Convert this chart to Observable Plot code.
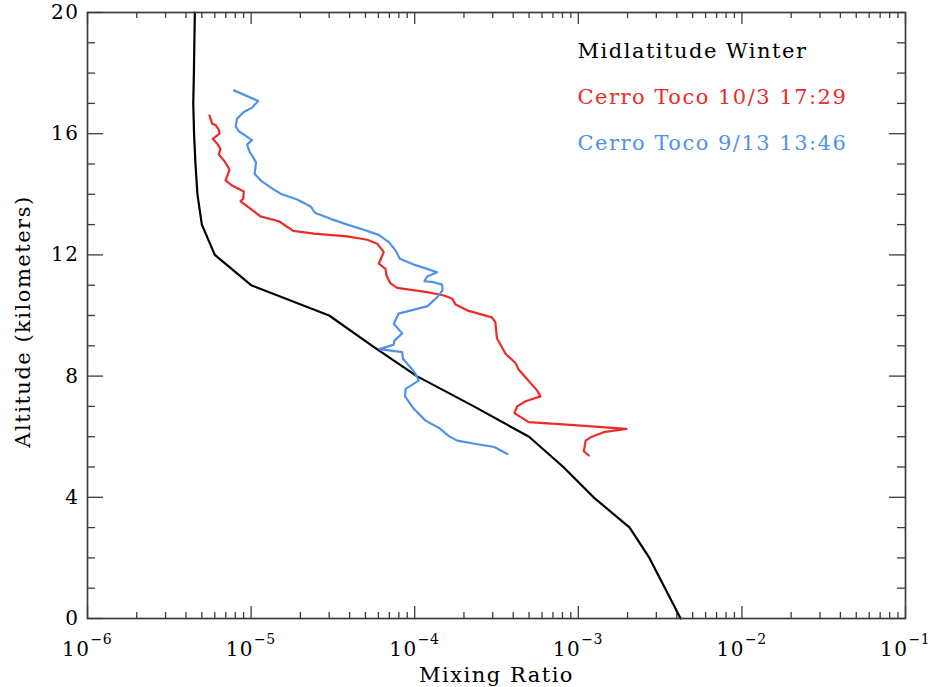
<!DOCTYPE html>
<html><head><meta charset="utf-8">
<script src="https://cdn.jsdelivr.net/npm/d3@7"></script>
<script src="https://cdn.jsdelivr.net/npm/@observablehq/plot@0.6"></script>
<style>
html,body{margin:0;padding:0;background:#fff;overflow:hidden}
svg text{letter-spacing:1.5px}
svg g[font-size="14"] text{letter-spacing:0.5px}
</style>
</head><body><div id="chart"></div>
<script>
// ---- data ----
const seriesNames = ["Midlatitude Winter", "Cerro Toco 10/3 17:29", "Cerro Toco 9/13 13:46"];
const seriesColors = ["#000000", "#ec2b2b", "#5291ea"];

const mlwAltitude = [20,19,18,17,16,15,14,13,12,11,10,9,8,7,6,5,4,3,2,1,0];
const mlwRatio = [4.53e-6,4.5e-6,4.47e-6,4.43e-6,4.48e-6,4.57e-6,4.7e-6,5.0e-6,6.0e-6,1.0e-5,3.0e-5,5.5e-5,1.03e-4,2.3e-4,5.0e-4,8.1e-4,1.24e-3,2.06e-3,2.72e-3,3.39e-3,4.22e-3];

const oct3Altitude = [16.60,16.33,16.29,16.13,16.00,15.83,15.67,15.50,15.31,15.12,14.95,14.81,14.46,14.29,14.09,13.85,13.77,13.57,13.27,13.11,12.79,12.70,12.61,12.50,12.37,12.09,11.71,11.54,11.32,11.06,10.91,10.77,10.66,10.55,10.36,10.17,9.94,9.78,9.26,8.74,8.43,8.21,7.52,7.33,7.17,7.00,6.78,6.48,6.39,6.26,6.15,5.98,5.87,5.52,5.38];
const oct3Ratio = [5.57e-6,5.78e-6,6.06e-6,6.35e-6,6.41e-6,5.83e-6,6.21e-6,6.50e-6,6.35e-6,6.81e-6,7.14e-6,7.38e-6,6.98e-6,7.66e-6,9.03e-6,8.95e-6,8.61e-6,9.68e-6,1.14e-5,1.48e-5,1.81e-5,2.42e-5,3.87e-5,5.13e-5,5.90e-5,6.47e-5,6.03e-5,6.63e-5,6.72e-5,7.11e-5,7.82e-5,1.19e-4,1.51e-4,1.70e-4,1.78e-4,2.09e-4,2.96e-4,3.11e-4,3.18e-4,3.59e-4,4.13e-4,4.33e-4,5.61e-4,5.87e-4,4.76e-4,4.23e-4,4.07e-4,4.98e-4,8.96e-4,1.97e-3,1.43e-3,1.19e-3,1.11e-3,1.08e-3,1.16e-3];

const sep13Altitude = [17.43,17.08,16.86,16.71,16.49,16.24,16.09,15.79,15.64,15.39,15.22,15.05,14.67,14.46,14.23,14.02,13.83,13.60,13.38,13.19,13.00,12.83,12.66,12.42,12.15,11.87,11.68,11.54,11.43,11.29,11.13,11.10,11.02,10.83,10.60,10.31,10.06,9.73,9.41,9.17,9.04,8.89,8.79,8.57,8.27,8.08,7.85,7.58,7.33,6.92,6.53,6.29,6.02,5.87,5.76,5.66,5.43];
const sep13Ratio = [7.86e-6,1.105e-5,1.013e-5,8.98e-6,8.20e-6,8.06e-6,8.38e-6,1.013e-5,9.44e-6,9.82e-6,1.03e-5,1.072e-5,1.052e-5,1.142e-5,1.314e-5,1.512e-5,1.913e-5,2.31e-5,2.47e-5,3.06e-5,3.87e-5,4.89e-5,6.03e-5,6.95e-5,7.63e-5,8.11e-5,9.87e-5,1.19e-4,1.37e-4,1.19e-4,1.148e-4,1.30e-4,1.47e-4,1.48e-4,1.37e-4,1.20e-4,7.96e-5,7.45e-5,8.39e-5,7.52e-5,7.45e-5,6.09e-5,8.39e-5,8.48e-5,9.49e-5,1.011e-4,1.06e-4,8.79e-5,8.73e-5,9.87e-5,1.164e-4,1.41e-4,1.616e-4,1.82e-4,2.37e-4,3.07e-4,3.69e-4];

const yMajorTicks = [0,4,8,12,16,20];
const yMinorTicks = [1,2,3,5,6,7,9,10,11,13,14,15,17,18,19];
const xExponents = [-6,-5,-4,-3,-2,-1];
const xMinorMultipliers = [2,3,4,5,6,7,8,9];
const xLabel = "Mixing Ratio";
const yLabel = "Altitude (kilometers)";

// ---- build tables ----
const toRows = (alts, ratios) => alts.map((a, i) => ({alt: a, ratio: ratios[i]}));
const mlw = toRows(mlwAltitude, mlwRatio);
const oct3 = toRows(oct3Altitude, oct3Ratio);
const sep13 = toRows(sep13Altitude, sep13Ratio);
const xMajor = xExponents.map(e => Math.pow(10, e));
const xMinor = xExponents.slice(0, -1).flatMap(e => xMinorMultipliers.map(m => m * Math.pow(10, e)));

// ---- layout ----
const W = 930, H = 687;
const mL = 87, mR = 25, mT = 12, mB = 69;
const fw = W - mL - mR, fh = H - mT - mB;
const axisColor = "#3c3c3c";
const font = "DejaVu Serif";

const chart = Plot.plot({
  width: W, height: H,
  marginLeft: mL, marginRight: mR, marginTop: mT, marginBottom: mB,
  style: {fontFamily: font, background: "white", color: "black"},
  x: {type: "log", domain: [1e-6, 1e-1], axis: null},
  y: {domain: [0, 20], axis: null},
  marks: [
    // ticks (inward, both sides)
    Plot.tickX(xMajor, {x: d => d, insetTop: fh - 12, stroke: axisColor, strokeWidth: 1.3}),
    Plot.tickX(xMajor, {x: d => d, insetBottom: fh - 12, stroke: axisColor, strokeWidth: 1.3}),
    Plot.tickX(xMinor, {x: d => d, insetTop: fh - 6, stroke: axisColor, strokeWidth: 1.3}),
    Plot.tickX(xMinor, {x: d => d, insetBottom: fh - 6, stroke: axisColor, strokeWidth: 1.3}),
    Plot.tickY(yMajorTicks, {y: d => d, insetRight: fw - 16, stroke: axisColor, strokeWidth: 1.3}),
    Plot.tickY(yMajorTicks, {y: d => d, insetLeft: fw - 16, stroke: axisColor, strokeWidth: 1.3}),
    Plot.tickY(yMinorTicks, {y: d => d, insetRight: fw - 8, stroke: axisColor, strokeWidth: 1.3}),
    Plot.tickY(yMinorTicks, {y: d => d, insetLeft: fw - 8, stroke: axisColor, strokeWidth: 1.3}),
    // data
    Plot.line(mlw, {x: "ratio", y: "alt", stroke: seriesColors[0], strokeWidth: 2.2}),
    Plot.line(oct3, {x: "ratio", y: "alt", stroke: seriesColors[1], strokeWidth: 2.2}),
    Plot.line(sep13, {x: "ratio", y: "alt", stroke: seriesColors[2], strokeWidth: 2.2}),
    Plot.frame({stroke: axisColor, strokeWidth: 1.7}),
    // tick labels
    Plot.text(yMajorTicks, {y: d => d, text: d => String(d), frameAnchor: "left", textAnchor: "end", dx: -8, fontSize: 20, fill: "black"}),
    Plot.text(xExponents, {x: e => Math.pow(10, e), text: () => "10", frameAnchor: "bottom", textAnchor: "end", lineAnchor: "bottom", dx: 3, dy: 37, fontSize: 20, fill: "black"}),
    Plot.text(xExponents, {x: e => Math.pow(10, e), text: e => "\u2212" + Math.abs(e), frameAnchor: "bottom", textAnchor: "start", lineAnchor: "bottom", dx: 3, dy: 25, fontSize: 14, fill: "black"}),
    // axis titles
    Plot.text([xLabel], {text: d => d, frameAnchor: "bottom", textAnchor: "middle", lineAnchor: "bottom", dy: 63, fontSize: 21, fill: "black"}),
    Plot.text([yLabel], {text: d => d, frameAnchor: "left", textAnchor: "middle", rotate: -90, dx: -64, dy: 6, fontSize: 21, fill: "black"}),
    // legend
    Plot.text([seriesNames[0]], {text: d => d, frameAnchor: "top-left", textAnchor: "start", lineAnchor: "bottom", dx: 490, dy: 45, fontSize: 21, fill: seriesColors[0]}),
    Plot.text([seriesNames[1]], {text: d => d, frameAnchor: "top-left", textAnchor: "start", lineAnchor: "bottom", dx: 490, dy: 91, fontSize: 21, fill: seriesColors[1]}),
    Plot.text([seriesNames[2]], {text: d => d, frameAnchor: "top-left", textAnchor: "start", lineAnchor: "bottom", dx: 490, dy: 137, fontSize: 21, fill: seriesColors[2]})
  ]
});
document.getElementById("chart").appendChild(chart);
</script>
</body></html>
